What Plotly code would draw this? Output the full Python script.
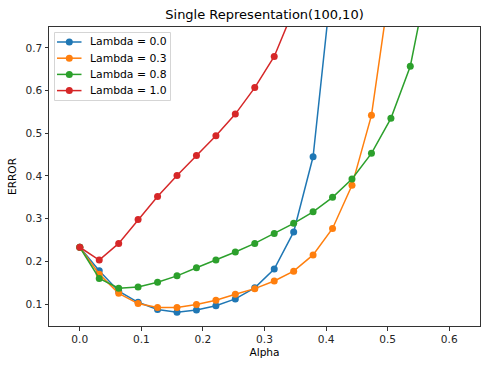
import numpy as np
import plotly.graph_objects as go

alpha = [0.0, 0.0316, 0.0632, 0.0947, 0.1263, 0.1579, 0.1895, 0.2211, 0.2526, 0.2842,
         0.3158, 0.3474, 0.3789, 0.4105, 0.4421, 0.4737, 0.5053, 0.5368, 0.5684, 0.6]

err_l00 = [0.233, 0.178, 0.130, 0.104, 0.087, 0.081, 0.086, 0.096, 0.112, 0.138,
           0.182, 0.269, 0.445, 0.83, 1.30, 1.90, 2.60, 3.40, 4.30, 5.30]
err_l03 = [0.233, 0.170, 0.125, 0.101, 0.092, 0.092, 0.099, 0.109, 0.123, 0.136,
           0.154, 0.177, 0.215, 0.277, 0.378, 0.542, 0.86, 1.30, 1.90, 2.60]
err_l08 = [0.233, 0.160, 0.137, 0.140, 0.151, 0.166, 0.185, 0.203, 0.222, 0.242,
           0.265, 0.289, 0.316, 0.350, 0.393, 0.453, 0.535, 0.657, 0.885, 1.20]
err_l10 = [0.233, 0.203, 0.242, 0.298, 0.352, 0.401, 0.448, 0.494, 0.545, 0.607,
           0.680, 0.79, 0.93, 1.10, 1.30, 1.53, 1.80, 2.10, 2.45, 2.85]

series_names = ["Lambda = 0.0", "Lambda = 0.3", "Lambda = 0.8", "Lambda = 1.0"]
series_values = [err_l00, err_l03, err_l08, err_l10]
series_colors = ["#1f77b4", "#ff7f0e", "#2ca02c", "#d62728"]

x_ticks = [0.0, 0.1, 0.2, 0.3, 0.4, 0.5, 0.6]
y_ticks = [0.1, 0.2, 0.3, 0.4, 0.5, 0.6, 0.7]

W, H = 493, 371
ML, MR, MT, MB = 49, 13, 27, 45
PW, PH = W - ML - MR, H - MT - MB


def px(xp):
    return (xp - ML) / PW


def py(yp):
    return (H - MB - yp) / PH


fig = go.Figure()
for name, vals, color in zip(series_names, series_values, series_colors):
    fig.add_trace(go.Scatter(
        x=alpha, y=vals, name=name, mode="lines+markers",
        line=dict(color=color, width=1.5),
        marker=dict(color=color, size=7),
        showlegend=False,
    ))

font = "DejaVu Sans"

# legend drawn in paper coordinates (matplotlib look)
shapes = [dict(type="rect", xref="paper", yref="paper",
               x0=px(54.5), x1=px(170.5), y0=py(100.5), y1=py(32.5),
               line=dict(color="#d5d5d5", width=1), fillcolor="rgba(255,255,255,0.8)",
               layer="above")]
annotations = []
row0, row_gap = 42, 16.2
for i, (name, color) in enumerate(zip(series_names, series_colors)):
    yy = row0 + i * row_gap
    shapes.append(dict(type="line", xref="paper", yref="paper",
                       x0=px(57), x1=px(81.5), y0=py(yy), y1=py(yy),
                       line=dict(color=color, width=1.5), layer="above"))
    r = 3.5
    shapes.append(dict(type="circle", xref="paper", yref="paper",
                       x0=px(69.3 - r), x1=px(69.3 + r), y0=py(yy + r), y1=py(yy - r),
                       line=dict(color=color, width=0), fillcolor=color, layer="above"))
    annotations.append(dict(text=name, xref="paper", yref="paper",
                            x=px(89), y=py(yy), xanchor="left", yanchor="middle",
                            showarrow=False, borderpad=0,
                            font=dict(family=font, size=10.8, color="#000000")))

axis_common = dict(
    showgrid=False, zeroline=False, showline=True, linecolor="#333333", linewidth=1,
    mirror=True, ticks="outside", ticklen=3.5, tickwidth=1, tickcolor="#333333",
    tickfont=dict(family=font, size=10.6, color="#262626"), automargin=False,
)
fig.update_layout(
    width=W, height=H,
    margin=dict(l=ML, r=MR, t=MT, b=MB),
    paper_bgcolor="white", plot_bgcolor="white",
    title=dict(text="Single Representation(100,10)", x=264.5 / W, xanchor="center",
               xref="container", y=1 - 14 / H, yanchor="middle", yref="container",
               font=dict(family=font, size=13, color="#000000")),
    xaxis=dict(range=[-0.05, 0.65], tickvals=x_ticks,
               ticktext=[f"{v:.1f}" for v in x_ticks],
               title=dict(text="Alpha", font=dict(family=font, size=10.6, color="#000000"),
                          standoff=4),
               **axis_common),
    yaxis=dict(range=[0.0485, 0.749], tickvals=y_ticks,
               ticktext=[f"{v:.1f}" for v in y_ticks],
               title=dict(text="ERROR", font=dict(family=font, size=10.6, color="#000000"),
                          standoff=6),
               **axis_common),
    shapes=shapes,
    annotations=annotations,
    showlegend=False,
)

fig.write_html("out.html", config={"displayModeBar": False},
               post_script="document.body.style.margin='0';document.body.style.overflow='hidden';")
